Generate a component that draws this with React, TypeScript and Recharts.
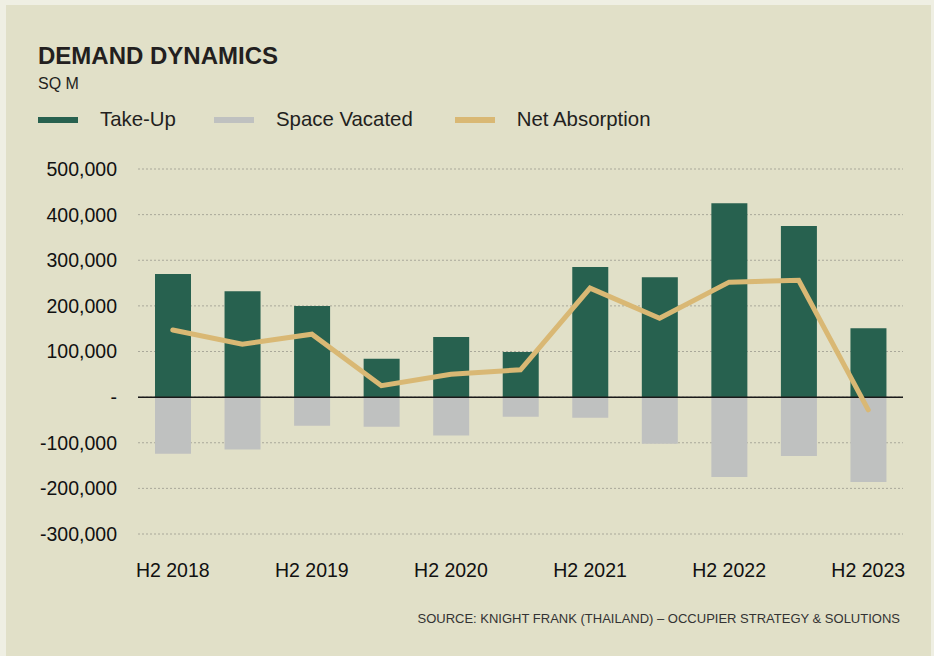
import {
  ComposedChart,
  Bar,
  Line,
  XAxis,
  YAxis,
  CartesianGrid,
  ReferenceLine,
} from "recharts";

const periods = [
  "H2 2018",
  "H1 2019",
  "H2 2019",
  "H1 2020",
  "H2 2020",
  "H1 2021",
  "H2 2021",
  "H1 2022",
  "H2 2022",
  "H1 2023",
  "H2 2023",
];
const takeUp = [270000, 232000, 200000, 84000, 132000, 99000, 285000, 263000, 425000, 375000, 151000];
const spaceVacated = [-124000, -115000, -63000, -65000, -84000, -43000, -45000, -102000, -175000, -129000, -186000];
const netAbsorption = [147000, 116000, 138000, 25000, 50000, 60000, 239000, 173000, 252000, 256000, -28000];
const yTicks = [-300000, -200000, -100000, 0, 100000, 200000, 300000, 400000, 500000];

const legendItems = [
  { label: "Take-Up", color: "#27614f", gap: 38 },
  { label: "Space Vacated", color: "#bfc1c0", gap: 42 },
  { label: "Net Absorption", color: "#d9b874", gap: 0 },
];

const FONT = "'Liberation Sans', Arial, sans-serif";

const fmt = (v: number) => (v === 0 ? "-" : v.toLocaleString("en-US"));

export default function App() {
  const data = periods.map((period, i) => ({
    period,
    takeUp: takeUp[i],
    vacated: spaceVacated[i],
    net: netAbsorption[i],
  }));

  return (
    <div
      style={{
        position: "absolute",
        left: 0,
        top: 0,
        width: 934,
        height: 656,
        background: "#efefe3",
        overflow: "hidden",
        fontFamily: FONT,
      }}
    >
      <div
        style={{
          position: "absolute",
          left: 6,
          top: 5,
          width: 925,
          height: 660,
          background: "#e1e0c8",
        }}
      />
      <div
        style={{
          position: "absolute",
          left: 38,
          top: 42,
          fontSize: 24,
          fontWeight: "bold",
          color: "#231f20",
        }}
      >
        DEMAND DYNAMICS
      </div>
      <div style={{ position: "absolute", left: 38, top: 75, fontSize: 16, color: "#231f20" }}>
        SQ M
      </div>
      <div style={{ position: "absolute", left: 38, top: 108, display: "flex", alignItems: "center" }}>
        {legendItems.map((item) => (
          <div key={item.label} style={{ display: "flex", alignItems: "center", marginRight: item.gap }}>
            <div style={{ width: 40, height: 6, background: item.color, marginRight: 22 }} />
            <span style={{ fontSize: 20.4, color: "#231f20" }}>{item.label}</span>
          </div>
        ))}
      </div>

      <div style={{ position: "absolute", left: 0, top: 0 }}>
        <ComposedChart
          width={934}
          height={656}
          data={data}
          stackOffset="sign"
          margin={{ top: 169, right: 31, bottom: 92, left: 0 }}
        >
          <CartesianGrid vertical={false} stroke="#a9a89a" strokeDasharray="2 2" />
          <XAxis
            dataKey="period"
            interval={1}
            axisLine={false}
            tickLine={false}
            tickSize={0}
            tickMargin={29}
            height={30}
            tick={{ fontSize: 19.5, fill: "#111", fontFamily: FONT }}
          />
          <YAxis
            type="number"
            domain={[-300000, 500000]}
            ticks={yTicks}
            tickFormatter={fmt}
            axisLine={false}
            tickLine={false}
            tickSize={0}
            tickMargin={21}
            width={138}
            tick={{ fontSize: 19.5, fill: "#111", fontFamily: FONT }}
          />
          <ReferenceLine y={0} stroke="#1a1a1a" strokeWidth={1.5} />
          <Bar dataKey="takeUp" stackId="a" fill="#27614f" barSize={36} isAnimationActive={false} />
          <Bar dataKey="vacated" stackId="a" fill="#bfc1c0" barSize={36} isAnimationActive={false} />
          <Line
            dataKey="net"
            type="linear"
            stroke="#d9b874"
            strokeWidth={5}
            strokeLinecap="round"
            dot={false}
            isAnimationActive={false}
          />
        </ComposedChart>
      </div>

      <div
        style={{
          position: "absolute",
          right: 34,
          top: 611,
          fontSize: 13,
          color: "#333",
        }}
      >
        SOURCE: KNIGHT FRANK (THAILAND) – OCCUPIER STRATEGY &amp; SOLUTIONS
      </div>
    </div>
  );
}
